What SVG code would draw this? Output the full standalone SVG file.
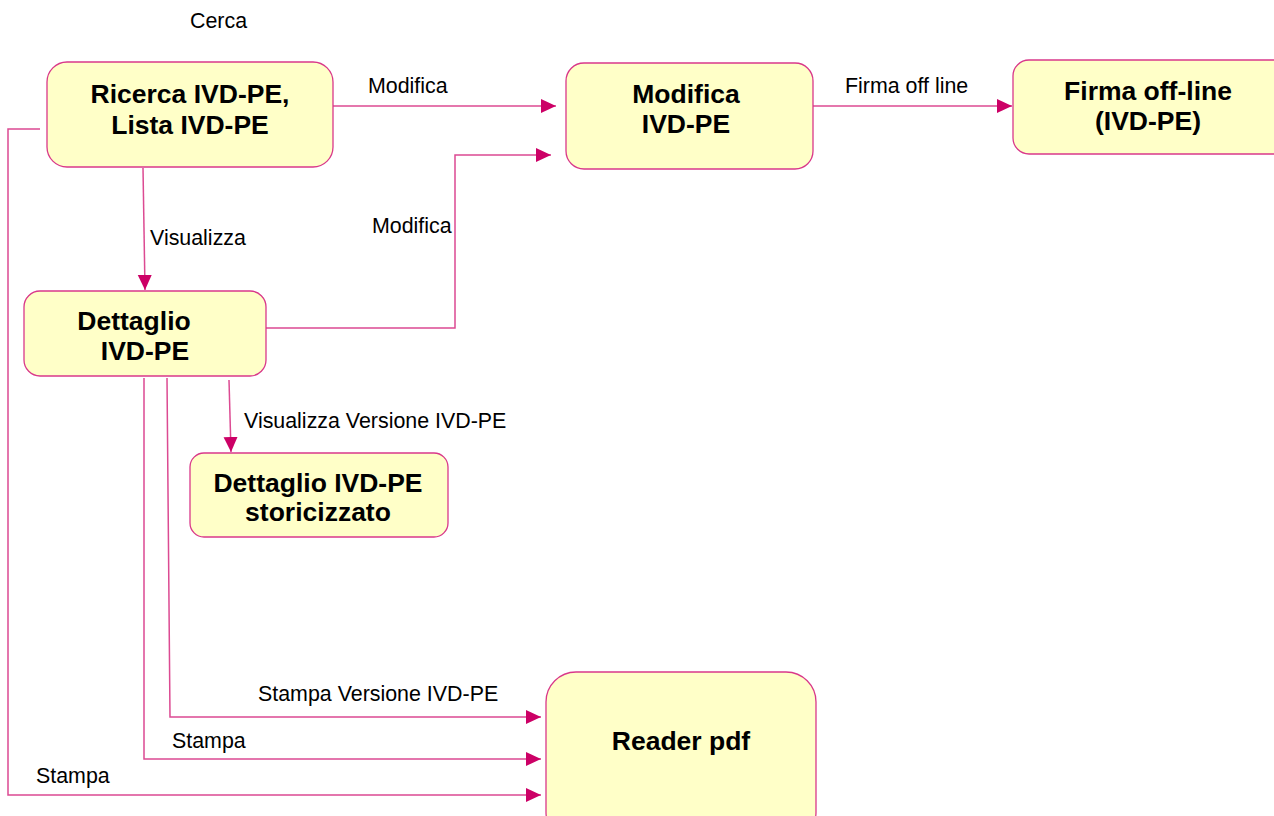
<svg xmlns="http://www.w3.org/2000/svg" width="1274" height="816" viewBox="0 0 1274 816">
<style>
.box{fill:#ffffc8;stroke:#d9388a;stroke-width:1.3}
.t{font-family:"Liberation Sans",Arial,sans-serif;font-weight:bold;font-size:26.5px;fill:#000;text-anchor:middle}
.l{font-family:"Liberation Sans",Arial,sans-serif;font-size:21.4px;fill:#000}
.c{fill:none;stroke:#dc4a92;stroke-width:1.5}
</style>
<defs>
<marker id="ah" markerWidth="16" markerHeight="16" refX="15" refY="8" orient="auto" markerUnits="userSpaceOnUse">
<path d="M0,1 L15,8 L0,15 Z" fill="#cc0066"/>
</marker>
</defs>
<rect width="1274" height="816" fill="#ffffff"/>
<g id="connectors">
<path class="c" d="M333,106 L556,106" marker-end="url(#ah)"/>
<path class="c" d="M266,328 L455,328 L455,155 L551,155" marker-end="url(#ah)"/>
<path class="c" d="M813,106 L1012,106" marker-end="url(#ah)"/>
<path class="c" d="M143,168 L145,290" marker-end="url(#ah)"/>
<path class="c" d="M229,380 L231,452" marker-end="url(#ah)"/>
<path class="c" d="M40,129 L8,129 L8,795 L541,795" marker-end="url(#ah)"/>
<path class="c" d="M144,378 L144,759 L541,759" marker-end="url(#ah)"/>
<path class="c" d="M167,378 L170,717 L541,717" marker-end="url(#ah)"/>
<text class="l" x="190" y="28">Cerca</text>
<text class="l" x="368" y="93">Modifica</text>
<text class="l" x="845" y="93">Firma off line</text>
<text class="l" x="150" y="245">Visualizza</text>
<text class="l" x="372" y="233">Modifica</text>
<text class="l" x="244" y="428">Visualizza Versione IVD-PE</text>
<text class="l" x="258" y="701">Stampa Versione IVD-PE</text>
<text class="l" x="172" y="748">Stampa</text>
<text class="l" x="36" y="783">Stampa</text>
</g>
<g id="ricerca">
<rect class="box" x="47" y="62" width="286" height="105" rx="20"/>
<text class="t" x="190" y="103">Ricerca IVD-PE,</text>
<text class="t" x="190" y="134">Lista IVD-PE</text>
</g>
<g id="modifica">
<rect class="box" x="566" y="63" width="247" height="106" rx="18"/>
<text class="t" x="686" y="103">Modifica</text>
<text class="t" x="686" y="133">IVD-PE</text>
</g>
<g id="firma">
<rect class="box" x="1013" y="60" width="280" height="94" rx="16"/>
<text class="t" x="1148" y="100">Firma off-line</text>
<text class="t" x="1148" y="130">(IVD-PE)</text>
</g>
<g id="dettaglio">
<rect class="box" x="24" y="291" width="242" height="85" rx="16"/>
<text class="t" x="134" y="330">Dettaglio</text>
<text class="t" x="145" y="360">IVD-PE</text>
</g>
<g id="storicizzato">
<rect class="box" x="190" y="453" width="258" height="84" rx="14"/>
<text class="t" x="318" y="492">Dettaglio IVD-PE</text>
<text class="t" x="318" y="521">storicizzato</text>
</g>
<g id="reader">
<rect class="box" x="546" y="672" width="270" height="170" rx="30"/>
<text class="t" x="681" y="750">Reader pdf</text>
</g>
</svg>
